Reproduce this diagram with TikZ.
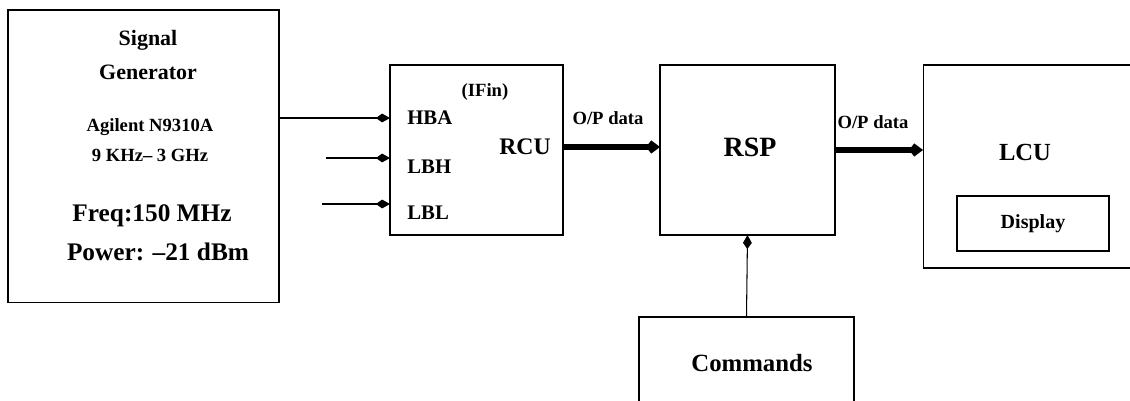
\documentclass[tikz,border=0pt]{standalone}
\usepackage{fontspec}
\setmainfont{Liberation Serif}
\usetikzlibrary{arrows.meta}
\newcommand{\fsz}[1]{\fontsize{#1}{#1}\selectfont\bfseries}

\begin{document}
\begin{tikzpicture}[x=0.02cm,y=-0.02cm,
		box/.style={draw,line width=0.6pt,inner sep=0pt,outer sep=0pt},
		lbl/.style={inner sep=0pt,font=\fsz{#1}},
		thinarrow/.style={line width=0.6pt,-{Kite[length=8pt,width=5pt,inset=3.5pt]}},
		thickarrow/.style={line width=3pt,-{Kite[length=8pt,width=7.5pt,inset=3pt]}}]
	\clip (0,0) rectangle (1130,401);
	
	% Signal generator
	\node[box,minimum width=5.42cm,minimum height=5.86cm] (sg) at (143.5,156.5) {};
	\node[lbl=12.5] (sgA) at (148,40) {Signal};
	\node[lbl=12.5] (sgB) at (148,72) {Generator};
	\node[lbl=10.6] (sgC) at (150,127) {Agilent N9310A};
	\node[lbl=10.6] (sgD) at (150,155) {9 KHz– 3 GHz};
	\node[lbl=14.4] (sgE) at (152,216) {Freq:150 MHz};
	\node[lbl=14.4] (sgF) at (158,252) {Power: –21 dBm};
	
	% RCU
	\node[box,minimum width=3.46cm,minimum height=3.4cm] (rcu) at (476.5,150) {};
	\node[lbl=10.6] (ifin) at (485,92) {(IFin)};
	\node[lbl=13.5] (rcuL) at (525,147) {RCU};
	\foreach \name/\txt/\y/\dy in {hba/HBA/118/0, lbh/LBH/158/9, lbl/LBL/204/9}{
		\coordinate (\name) at (rcu.west |- 0,\y);
		\node[lbl=11.8,anchor=west] (\name T) at (407,\y+\dy) {\txt};
	}
	\coordinate (lbhS) at (326,158);
	\coordinate (lblS) at (322,204);
	\draw[thinarrow] (sg.east |- hba) -- (hba);
	\draw[thinarrow] (lbhS) -- (lbh);
	\draw[thinarrow] (lblS) -- (lbl);
	
	% RSP
	\node[box,minimum width=3.5cm,minimum height=3.4cm] (rsp) at (747.5,150) {};
	\node[lbl=15.9] (rspL) at (750,147) {RSP};
	\draw[thickarrow] (rcu.east |- 0,147) -- (rsp.west |- 0,147);
	\node[lbl=10.6] (op1) at (608,118) {O/P data};
	
	% LCU
	\node[box,minimum width=4.54cm,minimum height=4.06cm] (lcu) at (1036.5,166.5) {};
	\node[lbl=14] (lcuL) at (1025,152) {LCU};
	\node[box,minimum width=3.04cm,minimum height=1.1cm,lbl=11.4] (disp) at (1033,223.5) {Display};
	\draw[thickarrow] (rsp.east |- 0,150) -- (lcu.west |- 0,150);
	\node[lbl=10.6] (op2) at (873,122) {O/P data};
	
	% Commands
	\node[box,minimum width=4.3cm,minimum height=2.26cm] (cmd) at (746.5,373.5) {};
	\node[lbl=14.1] (cmdL) at (752,363) {Commands};
	\draw[thinarrow] (cmd.north) -- (rsp.south);
\end{tikzpicture}
\end{document}
